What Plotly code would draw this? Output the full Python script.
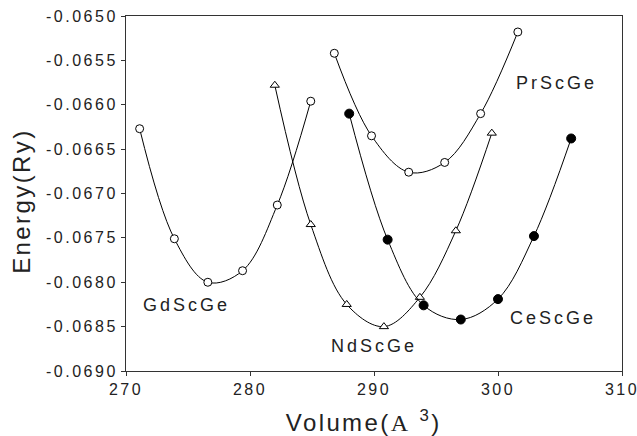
import plotly.graph_objects as go

# ---- data ----
gd_v = [271.1, 273.9, 276.6, 279.4, 282.2, 284.9]
gd_e = [-0.06627, -0.06751, -0.06800, -0.06787, -0.06713, -0.06596]

pr_v = [286.8, 289.8, 292.8, 295.7, 298.6, 301.6]
pr_e = [-0.06542, -0.06635, -0.06676, -0.06665, -0.06610, -0.06518]

nd_v = [282.0, 284.9, 287.8, 290.8, 293.7, 296.6, 299.5]
nd_e = [-0.06578, -0.06735, -0.06825, -0.06850, -0.06817, -0.06742, -0.06632]

ce_v = [288.0, 291.1, 294.0, 297.0, 300.0, 302.9, 305.9]
ce_e = [-0.06610, -0.06752, -0.06826, -0.06842, -0.06819, -0.06748, -0.06638]

series_names = ["GdScGe", "PrScGe", "NdScGe", "CeScGe"]
label_v = [274.9, 304.7, 290.0, 304.4]
label_e = [-0.06826, -0.065755, -0.06872, -0.06840]

x_ticks = [270, 280, 290, 300, 310]
y_ticks = [-0.0690, -0.0685, -0.0680, -0.0675, -0.0670, -0.0665, -0.0660, -0.0655, -0.0650]

FONT = "Liberation Sans, Arial, sans-serif"
INK = "#222222"

fig = go.Figure()

def add_series(v, e, symbol, fill, size):
    fig.add_trace(go.Scatter(
        x=v, y=e, mode="lines+markers",
        line=dict(color="black", width=1, shape="spline", smoothing=1),
        marker=dict(symbol=symbol, size=size, color=fill,
                    line=dict(color="black", width=1)),
        showlegend=False, hoverinfo="skip"))

add_series(gd_v, gd_e, "circle", "white", 8)
add_series(pr_v, pr_e, "circle", "white", 8)
add_series(nd_v, nd_e, "triangle-up", "white", 8)
add_series(ce_v, ce_e, "circle", "black", 9)

for name, lv, le in zip(series_names, label_v, label_e):
    fig.add_annotation(x=lv, y=le, xref="x", yref="y", text=name,
                       showarrow=False, xanchor="center", yanchor="middle",
                       font=dict(family=FONT, size=18, color=INK))

fig.add_annotation(x=0.478, y=-0.142, xref="paper", yref="paper",
                   text="Volume(<span style='font-family:Liberation Serif'>A</span> <sup>3</sup>)",
                   showarrow=False, xanchor="center", yanchor="middle",
                   font=dict(family=FONT, size=24, color=INK))
fig.add_annotation(x=-0.21, y=0.479, xref="paper", yref="paper",
                   text="Energy(Ry)", textangle=-90,
                   showarrow=False, xanchor="center", yanchor="middle",
                   font=dict(family=FONT, size=24, color=INK))

axis_common = dict(showgrid=False, zeroline=False, showline=True, mirror=True,
                   linecolor="#333333", linewidth=1, ticks="outside", ticklen=4,
                   tickcolor="#333333", tickwidth=1,
                   tickfont=dict(family=FONT, size=16, color=INK))

fig.update_xaxes(range=[270, 310], tickvals=x_ticks,
                 ticktext=[str(t) for t in x_ticks], **axis_common)
fig.update_yaxes(range=[-0.0690, -0.0650], tickvals=y_ticks,
                 ticktext=["%.4f" % t for t in y_ticks], **axis_common)

fig.update_layout(width=637, height=436,
                  margin=dict(l=126, r=15, t=16, b=65, autoexpand=False),
                  paper_bgcolor="white", plot_bgcolor="white")

post = """
var gd = document.getElementById('{plot_id}');
gd.querySelectorAll('.xtick text, .ytick text').forEach(function(t){ t.style.letterSpacing = '2.5px'; });
gd.querySelectorAll('.annotation-text').forEach(function(t){
  var big = t.textContent.indexOf('Volume') >= 0 || t.textContent.indexOf('Energy') >= 0;
  t.style.letterSpacing = big ? '2.4px' : '3px';
});
"""

fig.write_html("out.html", post_script=post)
